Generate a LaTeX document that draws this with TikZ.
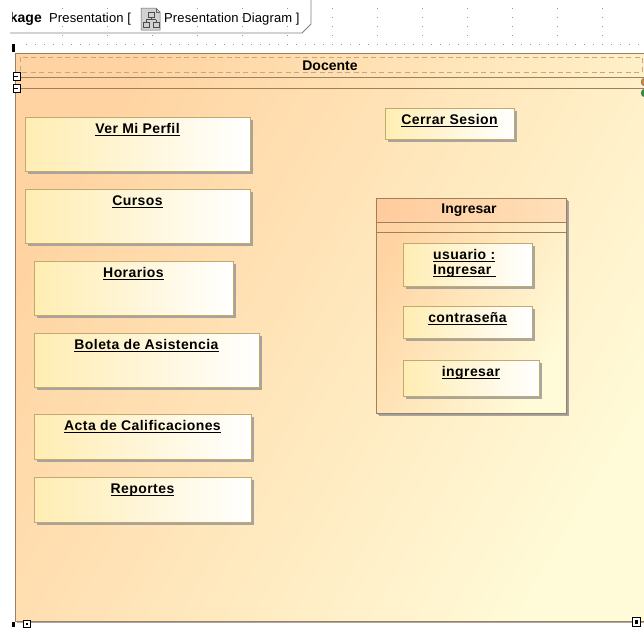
\documentclass[tikz,border=0pt]{standalone}
\usepackage{fontspec}
\setmainfont{Liberation Sans}
\newfontfamily\lblfont{Liberation Sans}[LetterSpace=3]
\newfontfamily\tabfont{Liberation Sans}[LetterSpace=1]
\usetikzlibrary{shadows}

\definecolor{framefillA}{RGB}{255,212,162}
\definecolor{framefillB}{RGB}{255,251,216}
\definecolor{frameline}{RGB}{160,128,92}
\definecolor{framedash}{RGB}{196,168,130}
\definecolor{boxleft}{RGB}{255,237,178}
\definecolor{boxline}{RGB}{192,170,112}
\definecolor{shadowgray}{RGB}{158,158,158}
\definecolor{headA}{RGB}{255,203,157}
\definecolor{headB}{RGB}{255,224,184}
\definecolor{griddot}{RGB}{150,150,150}
\definecolor{tabline}{RGB}{128,128,128}
\definecolor{handleorange}{RGB}{200,140,60}
\definecolor{handlegreen}{RGB}{40,150,60}

% underlined label text
\newsavebox\lblbox
\newcommand\ulbl[1]{\sbox\lblbox{#1}\rlap{\rule[-2.6pt]{\wd\lblbox}{0.9pt}}\usebox\lblbox}

\begin{document}
\begin{tikzpicture}[x=1pt, y=-1pt,
  objbox/.style={draw=boxline, line width=0.8pt, left color=boxleft, right color=white,
    drop shadow={shadow xshift=3pt, shadow yshift=-3pt, fill=shadowgray, opacity=0.9},
    inner sep=0, outer sep=0, anchor=north west},
  lbl/.style={font=\lblfont\bfseries\fontsize{14}{15}\selectfont, inner sep=0, anchor=base},
  tabtxt/.style={font=\tabfont\fontsize{13}{14}\selectfont, inner sep=0},
  bigframe/.style={draw=frameline, line width=0.8pt, inner sep=0, outer sep=0, anchor=north west,
    shading=axis, top color=framefillA, bottom color=framefillB, shading angle=60,
    drop shadow={shadow xshift=2pt, shadow yshift=-2pt, fill=shadowgray, opacity=0.9}},
  sepline/.style={draw=frameline, line width=0.8pt},
  dot/.style={fill=griddot}
]
\useasboundingbox (0,0) rectangle (644,627);

% dotted grid above the frame
\foreach \gx in {62,107,...,647}
  \foreach \gy in {8,17,26,35}
    \fill[dot] (\gx-0.5,\gy-0.5) rectangle (\gx+0.5,\gy+0.5);
\foreach \gx in {26,35,...,644}
  \fill[dot] (\gx-0.5,43.5) rectangle (\gx+0.5,44.5);

% diagram tab
\draw[tabline, line width=0.8pt] (10,33) -- (302,33) -- (311,24) -- (311,-2);
\begin{scope}
  \clip (12,0) rectangle (320,33);
  \node[tabtxt, anchor=base east, font=\bfseries\fontsize{14}{15}\selectfont] (pkgKw) at (42,22) {Package};
\end{scope}
\node[tabtxt, anchor=base west] (pkgName) at (49,22) {Presentation [};
\node[tabtxt, anchor=base west] (diagName) at (164,22) {Presentation Diagram ]};
% diagram icon
\fill[gray!35, draw=gray!80!black, line width=0.5pt] (141,8) -- (156,8) -- (160,12) -- (160,30) -- (141,30) -- cycle;
\draw[gray!80!black, line width=0.5pt] (156,8) -- (156,12) -- (160,12);
\draw[black!70, line width=0.6pt] (148,12) rectangle (154,17) (151,17) -- (151,19.5) (146,19.5) -- (156,19.5) (146,19.5) -- (146,22) (156,19.5) -- (156,22)
  (143,22) rectangle (149,27) (153,22) rectangle (159,27);

% corner markers
\fill[black] (12,44) rectangle (14.5,52);
\fill[black] (12,622) rectangle (14.5,627);

% Docente frame
\node[bigframe, minimum width=650pt, minimum height=568pt] (docente) at (15,53) {};
\draw[framedash, line width=0.8pt, dash pattern=on 5pt off 3.5pt] (20,57) rectangle (642,72);
\node[lbl, font=\bfseries\fontsize{14}{15}\selectfont] (docenteTxt) at (330,70) {Docente};
\draw[sepline] (15,77) -- (660,77);
\draw[sepline] (15,88) -- (660,88);

% side handles
\foreach \hy in {72,84}{
  \fill[white, draw=black, line width=0.8pt] (13,\hy) rectangle (20.5,\hy+8);
  \draw[black, line width=0.9pt] (13,\hy+4) -- (18,\hy+4);
}
\fill[handleorange, draw=black!60] (645,82) circle (4);
\fill[handlegreen, draw=black!60] (645,93) circle (4);
\fill[white, draw=black, line width=0.8pt] (23,620) rectangle (30,627);
\fill[black] (25.5,622.5) rectangle (27.5,624.5);
\fill[white, draw=black, line width=1pt] (632,617) rectangle (640,626);
\fill[black] (634.5,619.5) rectangle (637.5,623.5);

% left column of objects
\node[objbox, minimum width=225pt, minimum height=54pt] (perfil) at (25,117) {};
\node[lbl] (perfilTxt) at ([yshift=-16pt]perfil.north) {\ulbl{Ver Mi Perfil}};

\node[objbox, minimum width=225pt, minimum height=54pt] (cursos) at (25,189) {};
\node[lbl] (cursosTxt) at ([yshift=-16pt]cursos.north) {\ulbl{Cursos}};

\node[objbox, minimum width=199pt, minimum height=54pt] (horarios) at (34,261) {};
\node[lbl] (horariosTxt) at ([yshift=-16pt]horarios.north) {\ulbl{Horarios}};

\node[objbox, minimum width=225pt, minimum height=54pt] (boleta) at (34,333) {};
\node[lbl] (boletaTxt) at ([yshift=-16pt]boleta.north) {\ulbl{Boleta de Asistencia}};

\node[objbox, minimum width=217pt, minimum height=45pt] (acta) at (34,414) {};
\node[lbl] (actaTxt) at ([yshift=-16pt]acta.north) {\ulbl{Acta de Calificaciones}};

\node[objbox, minimum width=217pt, minimum height=45pt] (reportes) at (34,477) {};
\node[lbl] (reportesTxt) at ([yshift=-16pt]reportes.north) {\ulbl{Reportes}};

% right column
\node[objbox, minimum width=129pt, minimum height=31pt] (cerrar) at (385,108) {};
\node[lbl] (cerrarTxt) at ([yshift=-16pt]cerrar.north) {\ulbl{Cerrar Sesion}};

% Ingresar panel
\node[bigframe, minimum width=190pt, minimum height=215pt,
  drop shadow={shadow xshift=3pt, shadow yshift=-3pt, fill=shadowgray, opacity=0.9}] (ingresar) at (376,198) {};
\shade[left color=headA, right color=headB] (376.4,198.4) rectangle (565.6,222);
\draw[sepline] (376,222) -- (566,222);
\draw[sepline] (376,232) -- (566,232);
\draw[frameline, line width=0.8pt] (376,198) rectangle (566,413);
\node[lbl, font=\bfseries\fontsize{14}{15}\selectfont] (ingresarTxt) at (469,213) {Ingresar};

\node[objbox, minimum width=129pt, minimum height=43pt] (usuario) at (403,243) {};
\node[lbl, anchor=base west] (usuarioTxtA) at (433,259) {\ulbl{usuario :}};
\node[lbl, anchor=base west] (usuarioTxtB) at (433,274) {\ulbl{Ingresar\ }};

\node[objbox, minimum width=129pt, minimum height=32pt] (contra) at (403,306) {};
\node[lbl] (contraTxt) at ([yshift=-16pt]contra.north) {\ulbl{contraseña}};

\node[objbox, minimum width=136pt, minimum height=36pt] (ingresarBtn) at (403,360) {};
\node[lbl] (ingresarBtnTxt) at ([yshift=-16pt]ingresarBtn.north) {\ulbl{ingresar}};
\end{tikzpicture}
\end{document}
